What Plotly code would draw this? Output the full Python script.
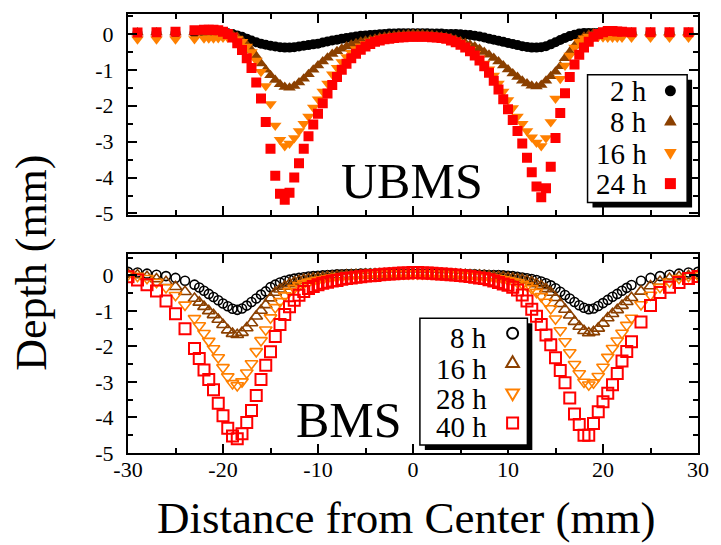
import plotly.graph_objects as go

# ---------------- data ----------------
# Top panel (UBMS), distance from center (mm)
XT = [-29, -27, -25, -23,
      -22, -21.5, -21, -20.5, -20, -19.5, -19, -18.5, -18, -17.5,
      -17, -16.5, -16, -15.5, -15, -14.5, -14, -13.5, -13, -12.5,
      -12, -11.5, -11, -10.5, -10, -9.5, -9, -8.5, -8, -7.5,
      -7, -6.5, -6, -5.5, -5, -4.5, -4, -3.5, -3, -2.5,
      -2, -1.5, -1, -0.5, 0, 0.5, 1, 1.5, 2, 2.5,
      3, 3.5, 4, 4.5, 5, 5.5, 6, 6.5, 7, 7.5,
      8, 8.5, 9, 9.5, 10, 10.5, 11, 11.5, 12, 12.5,
      13, 13.5, 14, 14.5, 15, 15.5, 16, 16.5, 17, 17.5,
      18, 18.5, 19, 19.5, 20, 20.5, 21, 21.5, 22,
      23, 25, 27, 29]

UBMS_2H = [0.03, 0.03, 0.03, 0.03,
           0.03, 0.03, 0.03, 0.03, 0.03, 0.02, 0.0, -0.04, -0.08, -0.13,
           -0.18, -0.23, -0.27, -0.3, -0.33, -0.35, -0.37, -0.38, -0.38, -0.37,
           -0.35, -0.33, -0.31, -0.29, -0.27, -0.24, -0.21, -0.18, -0.16, -0.13,
           -0.11, -0.09, -0.07, -0.05, -0.04, -0.03, -0.02, -0.01, 0.0, 0.01,
           0.01, 0.02, 0.02, 0.02, 0.02, 0.02, 0.02, 0.02, 0.01, 0.01,
           0.01, 0.0, 0.0, 0.0, -0.01, -0.02, -0.03, -0.05, -0.07, -0.1,
           -0.13, -0.16, -0.19, -0.22, -0.25, -0.28, -0.31, -0.34, -0.36, -0.38,
           -0.38, -0.37, -0.34, -0.29, -0.23, -0.17, -0.11, -0.06, -0.02, 0.01,
           0.03, 0.03, 0.03, 0.03, 0.03, 0.03, 0.03, 0.03, 0.03,
           0.03, 0.03, 0.03, 0.03]

UBMS_8H = [0.04, 0.04, 0.04, 0.04,
           0.04, 0.04, 0.04, 0.04, 0.03, 0.02, -0.02, -0.08, -0.18, -0.3,
           -0.45, -0.62, -0.82, -1.0, -1.15, -1.28, -1.4, -1.48, -1.5, -1.45,
           -1.35, -1.25, -1.12, -1.0, -0.88, -0.77, -0.66, -0.56, -0.48, -0.41,
           -0.35, -0.3, -0.26, -0.22, -0.19, -0.16, -0.13, -0.1, -0.08, -0.06,
           -0.04, -0.03, -0.02, -0.01, 0.0, 0.0, -0.01, -0.02, -0.03, -0.05,
           -0.07, -0.09, -0.12, -0.16, -0.2, -0.25, -0.3, -0.35, -0.42, -0.5,
           -0.58, -0.67, -0.77, -0.88, -0.99, -1.1, -1.2, -1.3, -1.38, -1.44,
           -1.46, -1.42, -1.3, -1.18, -1.05, -0.9, -0.68, -0.5, -0.33, -0.18,
           -0.08, -0.02, 0.02, 0.03, 0.04, 0.04, 0.04, 0.04, 0.04,
           0.04, 0.04, 0.04, 0.04]

UBMS_16H = [-0.15, -0.15, -0.15, -0.14,
            -0.12, -0.12, -0.12, -0.11, -0.1, -0.1, -0.1, -0.14, -0.22, -0.35,
            -0.5, -0.74, -1.05, -1.45, -1.95, -2.55, -2.95, -3.12, -3.05, -2.9,
            -2.7, -2.5, -2.3, -2.05, -1.82, -1.6, -1.38, -1.12, -0.94, -0.78,
            -0.64, -0.52, -0.42, -0.34, -0.27, -0.21, -0.17, -0.13, -0.1, -0.08,
            -0.06, -0.05, -0.04, -0.03, -0.03, -0.03, -0.04, -0.05, -0.06, -0.08,
            -0.1, -0.13, -0.17, -0.22, -0.28, -0.35, -0.44, -0.55, -0.68, -0.82,
            -0.98, -1.16, -1.38, -1.6, -1.84, -2.06, -2.3, -2.5, -2.7, -2.88,
            -3.02, -3.12, -2.9, -2.45, -1.8, -1.25, -0.88, -0.6, -0.38, -0.22,
            -0.12, -0.08, -0.08, -0.08, -0.09, -0.1, -0.1, -0.1, -0.1,
            -0.1, -0.1, -0.1, -0.1]

UBMS_24H = [0.04, 0.05, 0.06, 0.1,
            0.12, 0.12, 0.12, 0.1, 0.06, 0.0, -0.1, -0.26, -0.45, -0.68,
            -0.95, -1.35, -1.8, -2.45, -3.2, -3.95, -4.45, -4.62, -4.42, -4.0,
            -3.6, -3.2, -2.85, -2.52, -2.22, -1.93, -1.66, -1.42, -1.2, -1.0,
            -0.83, -0.68, -0.55, -0.44, -0.35, -0.28, -0.22, -0.18, -0.15, -0.13,
            -0.11, -0.1, -0.09, -0.08, -0.08, -0.08, -0.08, -0.08, -0.09, -0.1,
            -0.11, -0.13, -0.18, -0.23, -0.3, -0.38, -0.48, -0.6, -0.74, -0.9,
            -1.08, -1.3, -1.55, -1.82, -2.1, -2.4, -2.7, -3.05, -3.45, -3.85,
            -4.25, -4.55, -4.3, -3.7, -2.9, -2.2, -1.65, -1.2, -0.85, -0.58,
            -0.38, -0.22, -0.08, 0.0, 0.05, 0.08, 0.08, 0.07, 0.06,
            0.05, 0.05, 0.05, 0.05]

# Bottom panel (BMS)
XB = [-30, -29, -28, -27, -26, -25, -24,
      -23, -22.5, -22, -21.5, -21, -20.5, -20, -19.5, -19, -18.5,
      -18, -17.5, -17, -16.5, -16, -15.5, -15, -14.5, -14, -13.5,
      -13, -12.5, -12, -11.5, -11, -10.5, -10, -9.5, -9, -8.5,
      -8, -7.5, -7, -6.5, -6, -5.5, -5, -4.5, -4, -3.5,
      -3, -2.5, -2, -1.5, -1, -0.5, 0, 0.5, 1, 1.5,
      2, 2.5, 3, 3.5, 4, 4.5, 5, 5.5, 6, 6.5,
      7, 7.5, 8, 8.5, 9, 9.5, 10, 10.5, 11, 11.5,
      12, 12.5, 13, 13.5, 14, 14.5, 15, 15.5, 16, 16.5,
      17, 17.5, 18, 18.5, 19, 19.5, 20, 20.5, 21, 21.5,
      22, 22.5, 23,
      24, 25, 26, 27, 28, 29, 30]

BMS_8H = [0.1, 0.08, 0.05, 0.02, -0.02, -0.07, -0.15,
          -0.26, -0.34, -0.43, -0.52, -0.61, -0.7, -0.79, -0.87, -0.94, -0.97,
          -0.93, -0.85, -0.75, -0.65, -0.54, -0.45, -0.33, -0.26, -0.2, -0.15,
          -0.12, -0.09, -0.07, -0.05, -0.03, -0.02, -0.01, 0.0, 0.01, 0.02,
          0.03, 0.03, 0.04, 0.04, 0.04, 0.05, 0.05, 0.05, 0.05, 0.05,
          0.05, 0.05, 0.05, 0.05, 0.05, 0.05, 0.05, 0.05, 0.05, 0.05,
          0.05, 0.05, 0.05, 0.05, 0.05, 0.04, 0.04, 0.04, 0.03, 0.03,
          0.02, 0.02, 0.01, 0.01, 0.01, 0.0, -0.01, -0.02, -0.04, -0.06,
          -0.08, -0.1, -0.13, -0.17, -0.22, -0.28, -0.36, -0.46, -0.55, -0.65,
          -0.75, -0.84, -0.91, -0.95, -0.93, -0.86, -0.78, -0.69, -0.6, -0.52,
          -0.43, -0.35, -0.27,
          -0.15, -0.07, -0.02, 0.02, 0.05, 0.08, 0.1]

BMS_16H = [0.03, 0.01, -0.04, -0.1, -0.18, -0.32, -0.46,
           -0.65, -0.76, -0.88, -1.0, -1.11, -1.24, -1.39, -1.54, -1.64, -1.67,
           -1.61, -1.48, -1.34, -1.15, -0.99, -0.83, -0.64, -0.48, -0.39, -0.31,
           -0.24, -0.19, -0.15, -0.12, -0.1, -0.08, -0.07, -0.06, -0.04, -0.03,
           -0.02, -0.01, 0.0, 0.01, 0.02, 0.02, 0.03, 0.03, 0.04, 0.04,
           0.04, 0.05, 0.05, 0.05, 0.05, 0.05, 0.05, 0.05, 0.05, 0.05,
           0.05, 0.04, 0.04, 0.04, 0.03, 0.03, 0.02, 0.02, 0.01, 0.0,
           0.0, -0.01, -0.02, -0.03, -0.04, -0.05, -0.07, -0.08, -0.1, -0.12,
           -0.15, -0.19, -0.24, -0.3, -0.38, -0.48, -0.63, -0.8, -0.96, -1.12,
           -1.3, -1.44, -1.56, -1.62, -1.59, -1.49, -1.35, -1.2, -1.08, -0.97,
           -0.85, -0.74, -0.63,
           -0.45, -0.3, -0.17, -0.09, -0.04, -0.01, 0.0]

BMS_28H = [0.02, -0.02, -0.08, -0.19, -0.34, -0.56, -0.83,
           -1.21, -1.41, -1.63, -1.85, -2.06, -2.31, -2.59, -2.85, -3.04, -3.1,
           -2.99, -2.74, -2.48, -2.14, -1.83, -1.53, -1.19, -0.9, -0.73, -0.57,
           -0.45, -0.36, -0.28, -0.23, -0.19, -0.16, -0.13, -0.11, -0.08, -0.06,
           -0.04, -0.03, -0.02, -0.01, 0.0, 0.01, 0.02, 0.03, 0.03, 0.04,
           0.04, 0.05, 0.05, 0.05, 0.05, 0.05, 0.05, 0.05, 0.05, 0.05,
           0.05, 0.04, 0.04, 0.03, 0.03, 0.02, 0.01, 0.0, -0.01, -0.02,
           -0.03, -0.04, -0.05, -0.07, -0.09, -0.11, -0.14, -0.17, -0.2, -0.24,
           -0.29, -0.37, -0.47, -0.59, -0.75, -0.93, -1.22, -1.55, -1.86, -2.17,
           -2.5, -2.76, -3.0, -3.08, -3.02, -2.84, -2.58, -2.3, -2.05, -1.84,
           -1.62, -1.4, -1.2,
           -0.82, -0.55, -0.33, -0.18, -0.08, -0.02, 0.0]

BMS_40H = [-0.04, -0.13, -0.26, -0.44, -0.72, -1.08, -1.5,
           -2.06, -2.34, -2.66, -2.93, -3.22, -3.6, -3.95, -4.3, -4.52, -4.6,
           -4.46, -4.14, -3.8, -3.38, -2.93, -2.53, -2.15, -1.72, -1.38, -1.1,
           -0.88, -0.7, -0.56, -0.45, -0.37, -0.31, -0.26, -0.22, -0.19, -0.16,
           -0.14, -0.11, -0.09, -0.07, -0.05, -0.04, -0.02, -0.01, 0.0, 0.02,
           0.03, 0.04, 0.05, 0.06, 0.07, 0.07, 0.08, 0.08, 0.07, 0.07,
           0.06, 0.05, 0.04, 0.03, 0.02, 0.01, 0.0, -0.02, -0.03, -0.05,
           -0.07, -0.09, -0.12, -0.16, -0.2, -0.24, -0.28, -0.33, -0.41, -0.55,
           -0.72, -0.95, -1.15, -1.38, -1.68, -1.95, -2.32, -2.68, -3.02, -3.45,
           -3.9, -4.2, -4.5, -4.5, -4.17, -3.84, -3.56, -3.32, -3.08, -2.76,
           -2.41, -2.14, -1.87,
           -1.31, -0.85, -0.48, -0.33, -0.2, -0.09, -0.03]

UBMS_LABELS = ["2 h", "8 h", "16 h", "24 h"]
BMS_LABELS = ["8 h", "16 h", "28 h", "40 h"]
X_TICKS = [-30, -20, -10, 0, 10, 20, 30]
X_TICK_TEXT = ["-30", "-20", "-10", "0", "10", "20", "30"]
Y_TICKS = [0, -1, -2, -3, -4, -5]
Y_TICK_TEXT = ["0", "-1", "-2", "-3", "-4", "-5"]

# ---------------- style ----------------
COLORS = ["#000000", "#8B4000", "#FF8000", "#FF0000"]
SYMBOLS = ["circle", "triangle-up", "triangle-down", "square"]
SIZES = [10, 11, 11, 10]
FONT = "Liberation Serif"

W, H = 721, 545
ML, MR, MT, MB = 128, 15, 13, 92
PW, PH = W - ML - MR, H - MT - MB


def fx(px):
    return (px - ML) / PW


def fy(py):
    return (H - MB - py) / PH


fig = go.Figure()

for vals, col, sym, sz, name in zip([UBMS_2H, UBMS_8H, UBMS_16H, UBMS_24H],
                                    COLORS, SYMBOLS, SIZES, UBMS_LABELS):
    fig.add_trace(go.Scatter(x=XT, y=vals, mode="markers", name=name,
                             xaxis="x", yaxis="y", showlegend=False,
                             marker=dict(symbol=sym, size=sz, color=col,
                                         line=dict(width=0))))

for vals, col, sym, sz, name in zip([BMS_8H, BMS_16H, BMS_28H, BMS_40H],
                                    COLORS, SYMBOLS, [9, 11, 11, 11], BMS_LABELS):
    fig.add_trace(go.Scatter(x=XB, y=vals, mode="markers", name=name,
                             xaxis="x2", yaxis="y2", showlegend=False,
                             marker=dict(symbol=sym + "-open", size=sz, color=col,
                                         line=dict(width=2 if sym == "square" else 1.6,
                                                   color=col))))

axis_common = dict(showline=True, linecolor="black", linewidth=2, mirror="allticks",
                   ticks="inside", ticklen=9, tickwidth=1.5, tickcolor="black",
                   showgrid=False, zeroline=False,
                   tickfont=dict(family=FONT, size=22, color="black"))

x_common = dict(axis_common, range=[-30, 30], tickmode="array", tickvals=X_TICKS,
                ticktext=X_TICK_TEXT,
                minor=dict(tick0=0, dtick=5, ticklen=5, ticks="inside",
                           tickcolor="black", tickwidth=1.5))
y_common = dict(axis_common, tickmode="array", tickvals=Y_TICKS, ticktext=Y_TICK_TEXT,
                ticklabelstandoff=8,
                minor=dict(tick0=0, dtick=0.5, ticklen=5, ticks="inside",
                           tickcolor="black", tickwidth=1.5))

top_bottom = fy(214)
bot_top = fy(254)

# legend boxes (shadow + box)
shapes = []
def legend_box(x0, y0, x1, y1):
    shapes.append(dict(type="rect", xref="paper", yref="paper",
                       x0=fx(x0 + 5), x1=fx(x1 + 5), y0=fy(y1 + 5), y1=fy(y0 + 5),
                       fillcolor="black", line=dict(width=0), layer="above"))
    shapes.append(dict(type="rect", xref="paper", yref="paper",
                       x0=fx(x0), x1=fx(x1), y0=fy(y1), y1=fy(y0),
                       fillcolor="white", line=dict(width=1.5, color="black"),
                       layer="above"))

legend_box(594, 74, 695, 202)
legend_box(424, 318, 533, 445)

def marker_shape(px, py, sym, col, filled, r):
    base = dict(xref="paper", yref="paper", xsizemode="pixel", ysizemode="pixel",
                xanchor=fx(px), yanchor=fy(py), layer="above",
                fillcolor=col if filled else "rgba(0,0,0,0)",
                line=dict(color=col, width=0 if filled else 2))
    if sym == "circle":
        base.update(type="circle", x0=-r, x1=r, y0=-r, y1=r)
    elif sym == "square":
        base.update(type="rect", x0=-r, x1=r, y0=-r, y1=r)
    elif sym == "triangle-up":
        base.update(type="path", path=f"M {-r*1.15},{-r*0.85} L {r*1.15},{-r*0.85} L 0,{r*1.1} Z")
    else:
        base.update(type="path", path=f"M {-r*1.15},{r*0.85} L {r*1.15},{r*0.85} L 0,{-r*1.1} Z")
    shapes.append(base)

annotations = []
top_rows = [90, 121.5, 153, 183.5]
top_mark = [90, 120, 153, 183]
for lab, row, mrow, sym, col in zip(UBMS_LABELS, top_rows, top_mark, SYMBOLS, COLORS):
    annotations.append(dict(xref="paper", yref="paper", x=fx(656), y=fy(row),
                            xanchor="right", yanchor="middle", showarrow=False, text=lab,
                            font=dict(family=FONT, size=29, color="black")))
    marker_shape(678, mrow, sym, col, True, 5.5)

bot_rows = [338, 369, 399, 427]
bot_mark = [333, 362, 394, 423]
for lab, row, mrow, sym, col in zip(BMS_LABELS, bot_rows, bot_mark, SYMBOLS, COLORS):
    annotations.append(dict(xref="paper", yref="paper", x=fx(494), y=fy(row),
                            xanchor="right", yanchor="middle", showarrow=False, text=lab,
                            font=dict(family=FONT, size=29, color="black")))
    marker_shape(518, mrow, sym, col, False, 5.5)

annotations += [
    dict(xref="paper", yref="paper", x=fx(416), y=fy(180), text="UBMS", showarrow=False,
         xanchor="center", yanchor="middle", font=dict(family=FONT, size=50, color="black")),
    dict(xref="paper", yref="paper", x=fx(352), y=fy(420), text="BMS", showarrow=False,
         xanchor="center", yanchor="middle", font=dict(family=FONT, size=50, color="black")),
    dict(xref="paper", yref="paper", x=fx(410), y=fy(518), text="Distance from Center (mm)",
         showarrow=False, xanchor="center", yanchor="middle",
         font=dict(family=FONT, size=45, color="black")),
    dict(xref="paper", yref="paper", x=fx(30), y=fy(262), text="Depth (mm)", textangle=-90,
         showarrow=False, xanchor="center", yanchor="middle",
         font=dict(family=FONT, size=44, color="black")),
]

fig.update_layout(
    width=W, height=H, margin=dict(l=ML, r=MR, t=MT, b=MB),
    paper_bgcolor="white", plot_bgcolor="white", showlegend=False,
    xaxis=dict(x_common, anchor="y", domain=[0, 1], showticklabels=False),
    yaxis=dict(y_common, anchor="x", domain=[top_bottom, 1], range=[-5.03, 0.556]),
    xaxis2=dict(x_common, anchor="y2", domain=[0, 1], matches="x", ticklabelstandoff=-4),
    yaxis2=dict(y_common, anchor="x2", domain=[0, bot_top], range=[-5.0, 0.59]),
    shapes=shapes, annotations=annotations,
)

fig.write_html("out.html")
